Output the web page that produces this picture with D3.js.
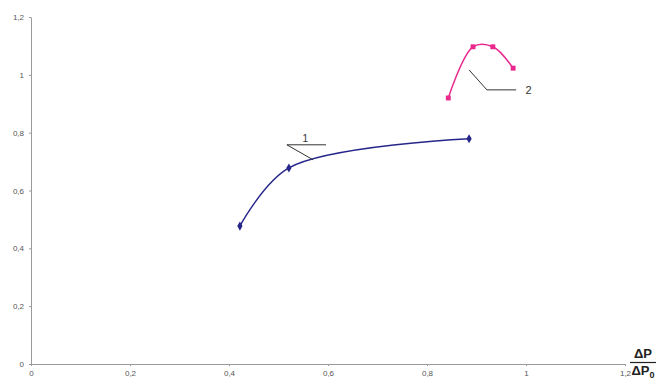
<!DOCTYPE html>
<html>
<head>
<meta charset="utf-8">
<script src="https://cdn.jsdelivr.net/npm/d3@7"></script>
<style>
    body { margin: 0; background: #fff; }
    svg text { font-family: "Liberation Sans", Arial, sans-serif; }
    .axis path, .axis line { stroke: #9a9a9a; }
    .axis text { fill: #555; font-size: 8px; }
</style>
</head>
<body>
<div class="chartContainer"></div>
<script>
//tick values for both axes
const xTicks = [0, 0.2, 0.4, 0.6, 0.8, 1, 1.2];
const yTicks = [0, 0.2, 0.4, 0.6, 0.8, 1, 1.2];

//curve 1 (blue, diamonds)
const series1X = [0.422, 0.521, 0.885];
const series1Y = [0.477, 0.678, 0.779];

//curve 2 (magenta, squares)
const series2X = [0.843, 0.893, 0.933, 0.974];
const series2Y = [0.92, 1.097, 1.097, 1.023];

//leader lines for the curve numbers, in data units
const labelNames = ['1', '2'];
const labelLines = [
    [[0.570, 0.706], [0.517, 0.758], [0.596, 0.758]],
    [[0.885, 1.017], [0.921, 0.948], [0.980, 0.948]]
];
//where the numbers sit
const labelPos = [[0.554, 0.768], [1.005, 0.934]];

//comma decimal like the original
function formatTick(d){
    return String(d).replace('.', ',');
}

function ready(){
    const width = 660, height = 385;
    const margin = {top: 17, right: 35, bottom: 21, left: 31};
    const chartWidth = width - margin.left - margin.right;
    const chartHeight = height - margin.top - margin.bottom;

    const xScale = d3.scaleLinear().domain([0, 1.2]).range([0, chartWidth]);
    const yScale = d3.scaleLinear().domain([0, 1.2]).range([chartHeight, 0]);

    const svg = d3.select('.chartContainer')
        .append('svg')
        .attr('width', width)
        .attr('height', height)
        .append('g')
        .attr('transform', `translate(${margin.left}, ${margin.top})`);

    //axes
    const xAxis = d3.axisBottom(xScale)
        .tickValues(xTicks)
        .tickFormat(formatTick)
        .tickSizeInner(2)
        .tickSizeOuter(0)
        .tickPadding(4);

    svg.append('g')
        .attr('class', 'x axis')
        .attr('transform', `translate(0, ${chartHeight})`)
        .call(xAxis);

    const yAxis = d3.axisLeft(yScale)
        .tickValues(yTicks)
        .tickFormat(formatTick)
        .tickSizeInner(2)
        .tickSizeOuter(0)
        .tickPadding(5);

    svg.append('g')
        .attr('class', 'y axis')
        .call(yAxis);

    //x axis title: dP / dP0 as a fraction
    const title = svg.append('g')
        .attr('transform', `translate(${chartWidth + 18}, ${chartHeight})`);
    title.append('text')
        .attr('x', 0).attr('y', -6)
        .attr('text-anchor', 'middle')
        .style('font-size', '13px').style('font-weight', 'bold').style('fill', '#222')
        .text('ΔP');
    title.append('line')
        .attr('x1', -13).attr('x2', 13)
        .attr('y1', -1.5).attr('y2', -1.5)
        .style('stroke', '#222').style('stroke-width', 1.2);
    const bottom = title.append('text')
        .attr('x', 0).attr('y', 11)
        .attr('text-anchor', 'middle')
        .style('font-size', '13px').style('font-weight', 'bold').style('fill', '#222');
    bottom.append('tspan').text('ΔP');
    bottom.append('tspan').attr('dy', 3).style('font-size', '9px').text('0');

    //series lines
    const series = [
        {x: series1X, y: series1Y, color: '#26268a', symbol: d3.symbolDiamond},
        {x: series2X, y: series2Y, color: '#e8288c', symbol: d3.symbolSquare}
    ];

    const line = d3.line()
        .x(d => xScale(d[0]))
        .y(d => yScale(d[1]))
        .curve(d3.curveCatmullRom.alpha(0.5));

    series.forEach(s => {
        const pts = s.x.map((v, i) => [v, s.y[i]]);
        svg.append('path')
            .datum(pts)
            .attr('d', line)
            .style('fill', 'none')
            .style('stroke', s.color)
            .style('stroke-width', 1.5);

        svg.append('g')
            .selectAll('path')
            .data(pts)
            .enter()
            .append('path')
            .attr('transform', d => `translate(${xScale(d[0])}, ${yScale(d[1])})`)
            .attr('d', d3.symbol().type(s.symbol).size(24))
            .style('fill', s.color);
    });

    //curve number labels with leader lines
    const leader = d3.line().x(d => xScale(d[0])).y(d => yScale(d[1]));
    labelLines.forEach((pts, i) => {
        svg.append('path')
            .attr('d', leader(pts))
            .style('fill', 'none')
            .style('stroke', '#333')
            .style('stroke-width', 1);

        svg.append('text')
            .attr('x', xScale(labelPos[i][0]))
            .attr('y', yScale(labelPos[i][1]))
            .attr('text-anchor', 'middle')
            .style('font-size', i === 0 ? '10px' : '11px')
            .style('fill', '#333')
            .text(labelNames[i]);
    });
}

ready();
</script>
</body>
</html>
